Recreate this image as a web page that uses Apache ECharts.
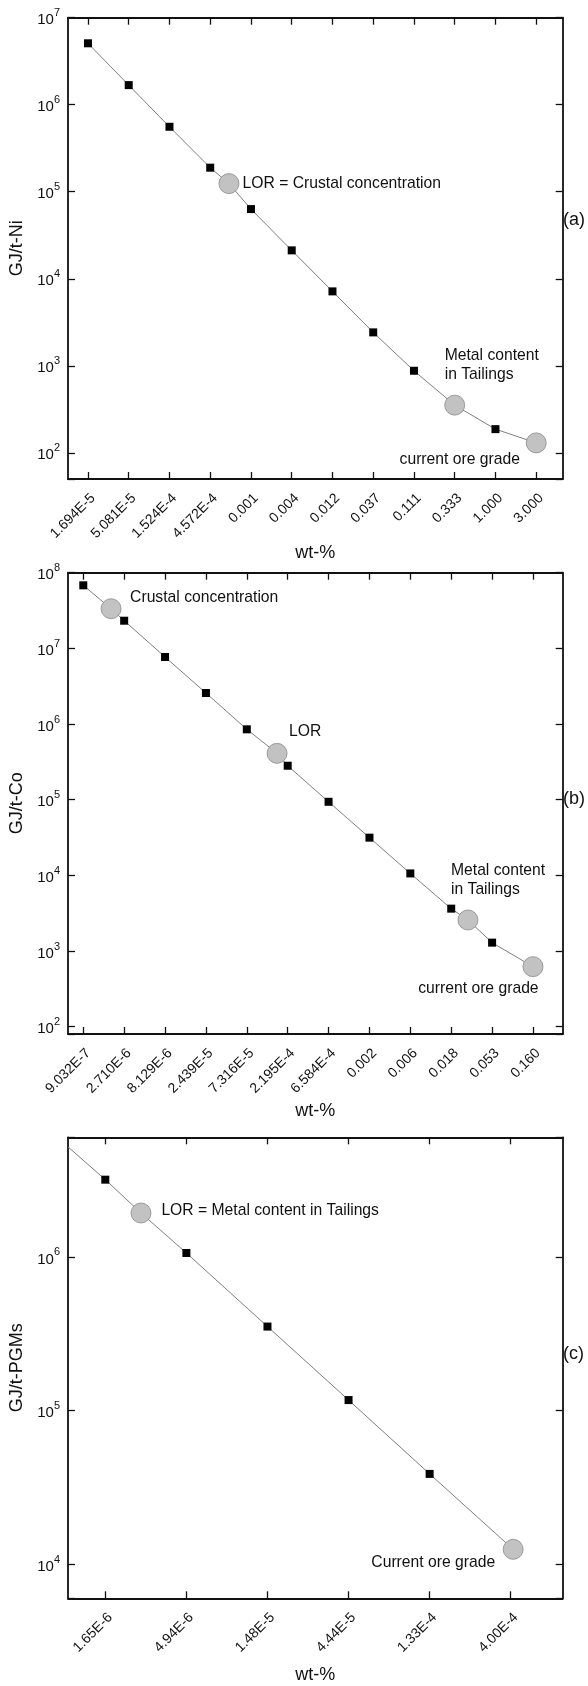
<!DOCTYPE html>
<html><head><meta charset="utf-8">
<script src="https://cdn.jsdelivr.net/npm/echarts@6/dist/echarts.min.js"></script>
<style>html,body{margin:0;padding:0;background:#fff}#c{width:588px;height:1686px}</style>
</head><body><div id="c"></div>
<script>
// ---------- Panel (a): Ni ----------
const niTickLabels = ['1.694E-5','5.081E-5','1.524E-4','4.572E-4','0.001','0.004','0.012','0.037','0.111','0.333','1.000','3.000'];
const niSquares = [5.08e6, 1.68e6, 5.58e5, 1.89e5, 6.32e4, 2.12e4, 7.16e3, 2.42e3, 877, null, 187, null];
const niCircleX = [3.46, 9, 11];
const niCircleY = [1.24e5, 353, 130];
const niCircleText = ['LOR = Crustal concentration', 'Metal content\nin Tailings', 'current ore grade'];

// ---------- Panel (b): Co ----------
const coTickLabels = ['9.032E-7','2.710E-6','8.129E-6','2.439E-5','7.316E-5','2.195E-4','6.584E-4','0.002','0.006','0.018','0.053','0.160'];
const coSquares = [6.81e7, 2.32e7, 7.69e6, 2.57e6, 8.51e5, 2.81e5, 9.38e4, 3.15e4, 1.06e4, 3.63e3, 1.29e3, null];
const coCircleX = [0.68, 4.74, 9.41, 11];
const coCircleY = [3.34e7, 4.10e5, 2.57e3, 621];
const coCircleText = ['Crustal concentration', 'LOR', 'Metal content\nin Tailings', 'current ore grade'];

// ---------- Panel (c): PGMs ----------
const pgmTickLabels = ['1.65E-6','4.94E-6','1.48E-5','4.44E-5','1.33E-4','4.00E-4'];
const pgmSquares = [3.18e6, 1.06e6, 3.52e5, 1.17e5, 3.87e4, null];
const pgmCircleX = [0.44, 5.03];
const pgmCircleY = [1.93e6, 1.25e4];
const pgmCircleText = ['LOR = Metal content in Tailings', 'Current ore grade'];
const pgmLineEntry = [-0.46, 5.2e6]; // where the line enters at the left frame

const yNames = ['GJ/t-Ni', 'GJ/t-Co', 'GJ/t-PGMs'];
const panelTags = ['(a)', '(b)', '(c)'];
const xName = 'wt-%';

// ---------- layout / style ----------
const FONT = '"Liberation Sans", Arial, sans-serif';
const INK = '#111';
const panels = [
  { ticks: niTickLabels, sq: niSquares, cx: niCircleX, cy: niCircleY, ct: niCircleText, entry: null,
    top: 17.7, height: 461.3, xmin: -0.49, xmax: 11.65, ymin: 50, ymax: 1e7, xNameGap: 57, tagY: 221,
    lab: [{align:'left', off:[13.6, 0]}, {align:'left', off:[-10, -39.5]}, {align:'right', off:[-16.3, 16.6]}] },
  { ticks: coTickLabels, sq: coSquares, cx: coCircleX, cy: coCircleY, ct: coCircleText, entry: null,
    top: 572.7, height: 461.3, xmin: -0.374, xmax: 11.727, ymin: 80, ymax: 1e8, xNameGap: 68, tagY: 800,
    lab: [{align:'left', off:[19, -11]}, {align:'left', off:[12, -21.6]}, {align:'left', off:[-17, -40]}, {align:'right', off:[5.6, 22.3]}] },
  { ticks: pgmTickLabels, sq: pgmSquares, cx: pgmCircleX, cy: pgmCircleY, ct: pgmCircleText, entry: pgmLineEntry,
    top: 1137.3, height: 461, xmin: -0.46, xmax: 5.641, ymin: 6000, ymax: 6e6, xNameGap: 68, tagY: 1355,
    lab: [{align:'left', off:[20.4, -2.3]}, {align:'right', off:[-18, 13.7]}] }
];

const grid = [], xAxis = [], yAxis = [], series = [], graphic = [];
panels.forEach((p, g) => {
  grid.push({ left: 68, width: 494.7, top: p.top, height: p.height });
  const idx = p.ticks.map((_, i) => i);
  const line = { show: true, onZero: false, lineStyle: { color: INK, width: 1.8 } };
  const tick = { show: true, inside: true, length: 7, customValues: idx, lineStyle: { color: INK, width: 1.3 } };
  xAxis.push({ type: 'value', gridIndex: g, position: 'bottom', min: p.xmin, max: p.xmax,
    splitLine: { show: false }, axisLine: line, axisTick: tick,
    name: xName, nameLocation: 'middle', nameGap: p.xNameGap,
    nameTextStyle: { fontFamily: FONT, fontSize: 18, color: INK },
    axisLabel: { customValues: idx, rotate: 45, margin: 12, verticalAlign: 'top',
      formatter: v => p.ticks[Math.round(v)], fontFamily: FONT, fontSize: 14, color: INK } });
  xAxis.push({ type: 'value', gridIndex: g, position: 'top', min: p.xmin, max: p.xmax,
    splitLine: { show: false }, axisLine: line, axisTick: tick, axisLabel: { show: false } });
  const ytick = { show: true, inside: true, length: 7, lineStyle: { color: INK, width: 1.3 } };
  yAxis.push({ type: 'log', gridIndex: g, position: 'left', min: p.ymin, max: p.ymax,
    splitLine: { show: false }, minorTick: { show: false }, axisLine: line, axisTick: ytick,
    name: yNames[g], nameLocation: 'middle', nameGap: 37,
    nameTextStyle: { fontFamily: FONT, fontSize: 18, color: INK },
    axisLabel: { margin: 8, fontFamily: FONT, color: INK,
      formatter: v => { const e = Math.log10(v); const r = Math.round(e);
        return Math.abs(e - r) > 1e-6 ? '' : '{b|10}{s|' + r + '}'; },
      rich: { b: { fontFamily: FONT, fontSize: 15, color: INK, lineHeight: 20, verticalAlign: 'bottom' },
              s: { fontFamily: FONT, fontSize: 11, color: INK, lineHeight: 13, verticalAlign: 'top' } } } });
  yAxis.push({ type: 'log', gridIndex: g, position: 'right', min: p.ymin, max: p.ymax,
    splitLine: { show: false }, minorTick: { show: false }, axisLine: line, axisTick: ytick, axisLabel: { show: false } });

  const pts = [];
  p.sq.forEach((v, i) => { if (v != null) pts.push([i, v]); });
  p.cx.forEach((x, i) => pts.push([x, p.cy[i]]));
  if (p.entry) pts.push(p.entry);
  pts.sort((a, b) => a[0] - b[0]);
  series.push({ type: 'line', xAxisIndex: 2 * g, yAxisIndex: 2 * g, data: pts, symbol: 'none', silent: true,
    lineStyle: { color: '#808080', width: 1 }, z: 1 });
  series.push({ type: 'scatter', xAxisIndex: 2 * g, yAxisIndex: 2 * g, symbol: 'rect', symbolSize: 8,
    data: p.sq.map((v, i) => v == null ? null : [i, v]).filter(d => d), itemStyle: { color: '#000', opacity: 1 }, z: 3 });
  series.push({ type: 'scatter', xAxisIndex: 2 * g, yAxisIndex: 2 * g, symbol: 'circle', symbolSize: 20, z: 2,
    itemStyle: { color: '#c2c2c2', borderColor: '#8a8a8a', borderWidth: 0.8, opacity: 1 },
    data: p.cx.map((x, i) => ({ value: [x, p.cy[i]],
      label: { show: true, formatter: p.ct[i], position: 'inside', align: p.lab[i].align, verticalAlign: 'middle',
        offset: p.lab[i].off, fontFamily: FONT, fontSize: 15.7, lineHeight: 19, color: INK,
        textBorderWidth: 0, textBorderColor: 'transparent', textShadowBlur: 0, opacity: 1 } })) });
  graphic.push({ type: 'text', left: 563, top: p.tagY - 10, style: { text: panelTags[g], font: '18px ' + FONT, fill: INK } });
});

const chart = echarts.init(document.getElementById('c'), null, { renderer: 'canvas' });
chart.setOption({ animation: false, backgroundColor: '#fff', grid, xAxis, yAxis, series, graphic });
</script></body></html>
